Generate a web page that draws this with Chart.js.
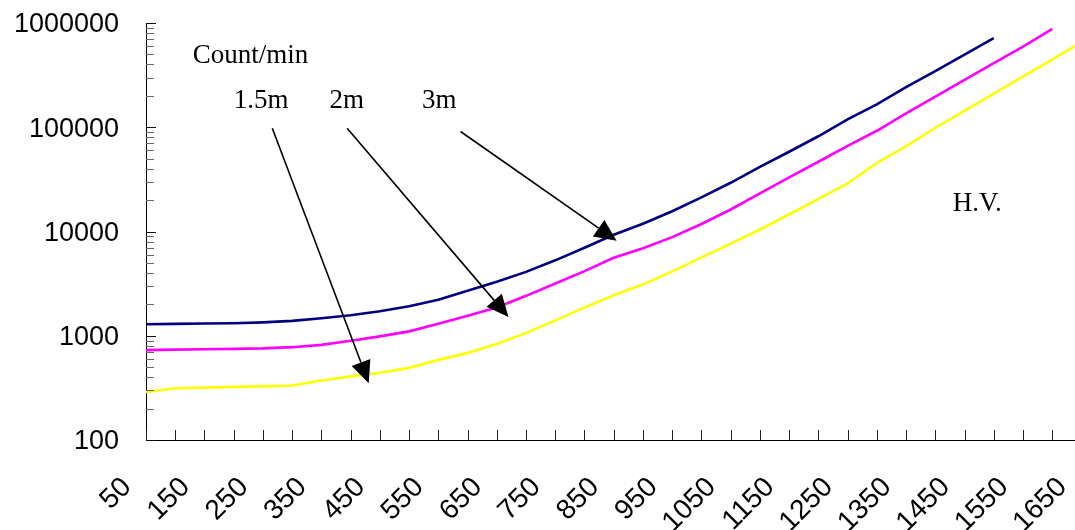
<!DOCTYPE html>
<html>
<head>
<meta charset="utf-8">
<script src="https://cdn.jsdelivr.net/npm/chart.js@4/dist/chart.umd.min.js"></script>
<style>
  html, body { margin: 0; background: #fff; }
  #wrap { width: 1075px; height: 530px; position: relative; }
</style>
</head>
<body>
<div id="wrap"><canvas id="chart"></canvas></div>
<script>
// H.V. steps (category values)
const hv = [50,100,150,200,250,300,350,400,450,500,550,600,650,700,750,800,850,900,950,1000,
            1050,1100,1150,1200,1250,1300,1350,1400,1450,1500,1550,1600,1650];
const xTickLabels = [50,150,250,350,450,550,650,750,850,950,1050,1150,1250,1350,1450,1550,1650];
const yTicks = [100,1000,10000,100000,1000000];
const yTickLabels = ['100','1000','10000','100000','1000000'];

// count/min
const counts15m = [289,314,318,323,327,333,372,408,441,492,587,685,836,1066,1405,1873,2442,3114,4141,5642,
                   7655,10450,14630,20600,28950,45630,65860,98900,144300,210600,307300,448300,654200];
const counts2m  = [728,736,742,749,757,777,818,894,987,1102,1301,1552,1869,2415,3176,4169,5592,6900,8836,11800,
                   16260,23210,32980,46660,66150,92560,135950,196700,284400,411400,595000,876100];
const counts3m  = [1290,1300,1310,1320,1345,1390,1470,1570,1715,1915,2210,2700,3300,4100,5290,6980,9300,11850,15660,21250,
                   29340,41770,58200,81930,119100,165500,242000,346200,496400,714600];

// text notes and arrows, placed in data units
const notes = [
  { text: 'Count/min', x: 130, y: 415000 },
  { text: '1.5m', x: 200, y: 154000 },
  { text: '2m', x: 364, y: 154000 },
  { text: '3m', x: 522, y: 154000 },
  { text: 'H.V.', x: 1430, y: 15900 }
];
const arrows = [
  { x0: 266, y0: 98000, x1: 431, y1: 351 },
  { x0: 394, y0: 98000, x1: 670, y1: 1510 },
  { x0: 588, y0: 91000, x1: 855, y1: 8140 }
];

const toPts = arr => arr.map((v, i) => ({ x: hv[i], y: v }));

const marks = {
  id: 'marks',
  afterDraw(chart) {
    const { ctx, chartArea: a, scales: { x, y } } = chart;
    ctx.save();
    ctx.lineWidth = 1;
    const seg = (x0, y0, x1, y1) => { ctx.beginPath(); ctx.moveTo(x0, y0); ctx.lineTo(x1, y1); ctx.stroke(); };

    // tick marks on the inside of the axes
    ctx.strokeStyle = '#222';
    hv.forEach(v => {
      const px = Math.round(x.getPixelForValue(v)) + 0.5;
      if (px > a.right) return;
      seg(px, a.bottom, px, a.bottom - 10);
    });
    for (let d = 100; d <= 1000000; d *= 10) {
      for (let m = 1; m <= 9; m++) {
        const v = d * m;
        if (v > 1000000) break;
        const py = Math.round(y.getPixelForValue(v)) + 0.5;
        ctx.strokeStyle = m === 1 ? '#111' : '#666';
        seg(a.left, py, a.left + (m === 1 ? 10 : 8), py);
      }
    }

    // notes
    ctx.fillStyle = '#000';
    ctx.font = '27px "Liberation Serif", "Times New Roman", serif';
    ctx.textAlign = 'left';
    ctx.textBaseline = 'alphabetic';
    notes.forEach(n => ctx.fillText(n.text, x.getPixelForValue(n.x), y.getPixelForValue(n.y)));

    // arrows
    ctx.strokeStyle = '#000';
    ctx.lineWidth = 1.6;
    arrows.forEach(ar => {
      const x0 = x.getPixelForValue(ar.x0), y0 = y.getPixelForValue(ar.y0);
      const x1 = x.getPixelForValue(ar.x1), y1 = y.getPixelForValue(ar.y1);
      const ang = Math.atan2(y1 - y0, x1 - x0);
      const len = 22, hw = 10;
      const bx = x1 - len * Math.cos(ang), by = y1 - len * Math.sin(ang);
      seg(x0, y0, bx, by);
      ctx.beginPath();
      ctx.moveTo(x1, y1);
      ctx.lineTo(bx + hw * Math.sin(ang), by - hw * Math.cos(ang));
      ctx.lineTo(bx - hw * Math.sin(ang), by + hw * Math.cos(ang));
      ctx.closePath();
      ctx.fill();
    });
    ctx.restore();
  }
};

const line = (label, data, color) => ({
  label, data: toPts(data), borderColor: color, borderWidth: 2.6,
  pointRadius: 0, tension: 0, fill: false
});

new Chart(document.getElementById('chart'), {
  type: 'line',
  data: {
    datasets: [
      line('1.5m', counts15m, '#ffff00'),
      line('2m', counts2m, '#ff00ff'),
      line('3m', counts3m, '#000080')
    ]
  },
  options: {
    responsive: true,
    maintainAspectRatio: false,
    animation: false,
    layout: { padding: { top: 23, left: 0, right: 0, bottom: 0 } },
    plugins: { legend: { display: false }, tooltip: { enabled: false } },
    scales: {
      x: {
        type: 'linear',
        min: 50,
        max: 1639,
        grid: { display: false, drawTicks: false },
        border: { display: true, color: '#000', width: 1 },
        afterBuildTicks: s => { s.ticks = xTickLabels.map(v => ({ value: v })); },
        afterFit: s => { s.height = 90; s.paddingLeft = 0; s.paddingRight = 0; },
        ticks: {
          autoSkip: false,
          maxRotation: 45,
          minRotation: 45,
          padding: 31,
          labelOffset: -19,
          color: '#000',
          font: { family: '"Liberation Sans", Arial, sans-serif', size: 28 },
          callback: v => String(v)
        }
      },
      y: {
        type: 'logarithmic',
        min: 100,
        max: 1000000,
        grid: { display: false, drawTicks: false },
        border: { display: true, color: '#000', width: 1 },
        afterBuildTicks: s => { s.ticks = yTicks.map(v => ({ value: v, major: true })); },
        afterFit: s => { s.width = 146; s.paddingTop = 0; s.paddingBottom = 0; },
        ticks: {
          padding: 27,
          labelOffset: 2,
          color: '#000',
          font: { family: '"Liberation Sans", Arial, sans-serif', size: 27 },
          callback: (v, i) => yTickLabels[i]
        }
      }
    }
  },
  plugins: [marks]
});
</script>
</body>
</html>
